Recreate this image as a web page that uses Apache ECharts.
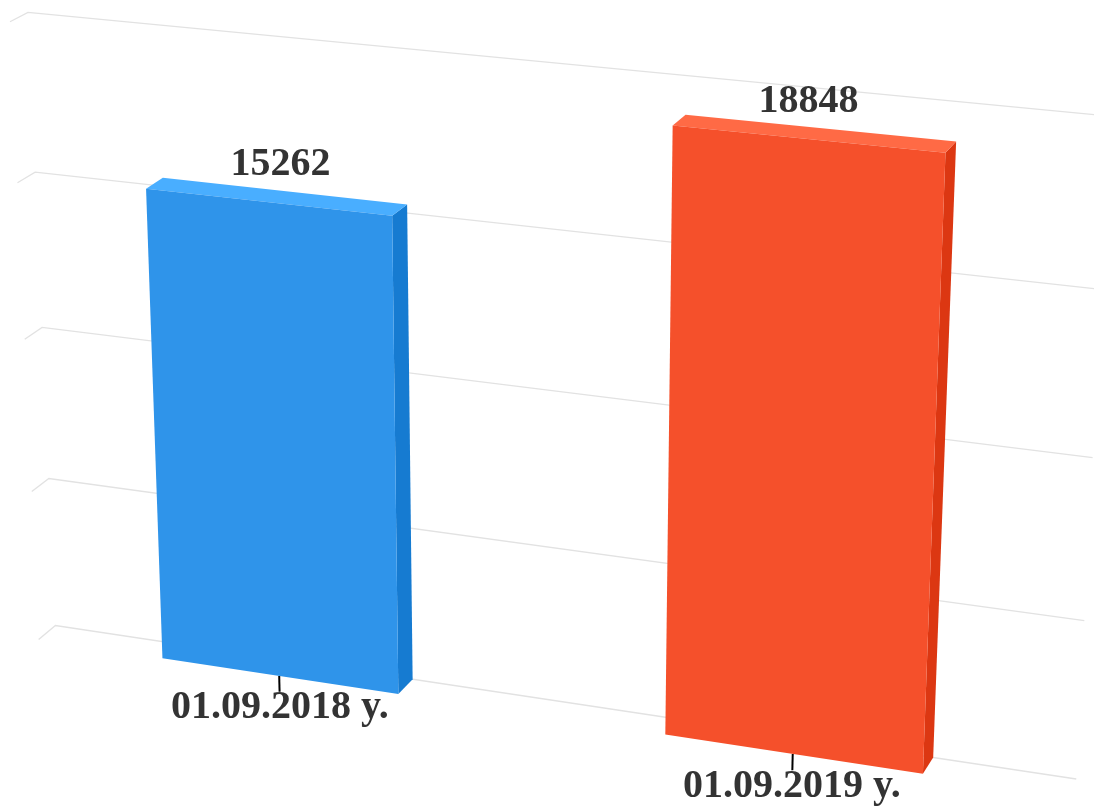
<!DOCTYPE html>
<html>
<head>
<meta charset="utf-8">
<script src="https://cdn.jsdelivr.net/npm/echarts@6/dist/echarts.min.js"></script>
<style>
html,body{margin:0;padding:0;background:#fff;}
#chart{width:1094px;height:807px;}
</style>
</head>
<body>
<div id="chart"></div>
<script>
// ---- data ----
const categories = ['01.09.2018 y.', '01.09.2019 y.'];
const values = [15262, 18848];
const yTicks = [0, 5000, 10000, 15000, 20000];
const barColors = ['#2F94EA', '#F5502B'];

// ---- 3D view settings (style) ----
const ALPHA = 20 * Math.PI / 180;
const BETA = 20 * Math.PI / 180;
const FLAT_W = 1120, FLAT_H = 680;   // virtual plot size in 3D units
const DEPTH = 40;                    // chart / column depth
const FOCAL = 4000, CAM = 4000;      // perspective
const BAR_FRAC = 0.48;
const LABEL_PULL = 0.982;
const FONT = 'bold 40px "Liberation Serif", "Times New Roman", serif';

function brighten(hex, amt) {
  const n = parseInt(hex.slice(1), 16);
  let r = (n >> 16) & 255, g = (n >> 8) & 255, b = n & 255;
  const d = Math.round(255 * amt);
  r = Math.max(0, Math.min(255, r + d));
  g = Math.max(0, Math.min(255, g + d));
  b = Math.max(0, Math.min(255, b + d));
  return 'rgb(' + r + ',' + g + ',' + b + ')';
}

function makeProj(cs) {
  const cx = cs.x + cs.width / 2, cy = cs.y + cs.height / 2;
  const sa = Math.sin(ALPHA), ca = Math.cos(ALPHA), sb = Math.sin(BETA), cb = Math.cos(BETA);
  const P = function (px, py, z) {
    const X = (px - cx) / cs.width * FLAT_W;
    const Y = (py - cy) / cs.height * FLAT_H;
    const Z = z - DEPTH / 2;
    const xr = cb * X + sb * Z;
    const yr = sa * sb * X + ca * Y - cb * sa * Z;
    const zr = -ca * sb * X + sa * Y + ca * cb * Z;
    const k = FOCAL / (CAM + zr);
    return [cx + xr * k, cy + yr * k];
  };
  P.cx = cx; P.cy = cy;
  return P;
}
function flatY(cs, units) { return units / FLAT_H * cs.height; }

const chart = echarts.init(document.getElementById('chart'), null, {renderer: 'canvas'});

const option = {
  animation: false,
  backgroundColor: '#ffffff',
  grid: { left: 137, right: 157, top: 96, bottom: 111 },
  xAxis: { type: 'category', data: categories, show: false, boundaryGap: true },
  yAxis: { type: 'value', min: 0, max: 20000, interval: 5000, show: false },
  series: [
    {
      type: 'custom',
      name: 'grid',
      z: 1,
      clip: false,
      silent: true,
      data: yTicks.map(v => [0, v]),
      renderItem: function (params, api) {
        const cs = params.coordSys;
        const P = makeProj(cs);
        const py = api.coord([0, api.value(1)])[1];
        const left = cs.x, right = cs.x + cs.width;
        return {
          type: 'polyline',
          shape: { points: [P(left, py, 0), P(left, py, DEPTH), P(right, py, DEPTH)] },
          style: { stroke: '#e2e2e2', lineWidth: 1.3, fill: null }
        };
      }
    },
    {
      type: 'custom',
      name: 'bars',
      z: 2,
      clip: false,
      data: values.map((v, i) => [i, v]),
      renderItem: function (params, api) {
        const cs = params.coordSys;
        const P = makeProj(cs);
        const i = api.value(0), v = api.value(1);
        const top = api.coord([i, v]);
        const base = api.coord([i, 0]);
        const bw = api.size([1, 0])[0] * BAR_FRAC;
        const xl = top[0] - bw / 2, xr = top[0] + bw / 2;
        const yt = top[1], yb = base[1];
        const col = barColors[i % barColors.length];
        const lab = P(top[0], yt, DEPTH / 2);
        const lx = P.cx + (lab[0] - P.cx) * LABEL_PULL;
        return {
          type: 'group',
          children: [
            { type: 'polygon', shape: { points: [P(xr, yt, 0), P(xr, yt, DEPTH), P(xr, yb, DEPTH), P(xr, yb, 0)] },
              style: { fill: brighten(col, -0.1) } },
            { type: 'polygon', shape: { points: [P(xl, yt, 0), P(xr, yt, 0), P(xr, yt, DEPTH), P(xl, yt, DEPTH)] },
              style: { fill: brighten(col, 0.1) } },
            { type: 'polygon', shape: { points: [P(xl, yt, 0), P(xr, yt, 0), P(xr, yb, 0), P(xl, yb, 0)] },
              style: { fill: col } },
            { type: 'text', x: lx, y: lab[1] - 32,
              style: { text: String(v), fill: '#333333', font: FONT,
                textAlign: 'center', textVerticalAlign: 'middle', align: 'center', verticalAlign: 'middle' } }
          ]
        };
      }
    },
    {
      type: 'custom',
      name: 'xaxis',
      z: 3,
      clip: false,
      silent: true,
      data: categories.map((c, i) => [i, 0]),
      renderItem: function (params, api) {
        const cs = params.coordSys;
        const P = makeProj(cs);
        const i = api.value(0);
        const b = api.coord([i, 0]);
        const t0 = P(b[0], b[1], 0);
        const t1 = P(b[0], b[1] + flatY(cs, 18), 0);
        const lp = P(b[0], b[1] + flatY(cs, 36), 0);
        return {
          type: 'group',
          children: [
            { type: 'line', shape: { x1: t0[0], y1: t0[1], x2: t1[0], y2: t1[1] },
              style: { stroke: '#000000', lineWidth: 2 } },
            { type: 'text', x: lp[0], y: lp[1],
              style: { text: categories[i], fill: '#333333', font: FONT,
                textAlign: 'center', textVerticalAlign: 'middle', align: 'center', verticalAlign: 'middle' } }
          ]
        };
      }
    }
  ]
};
chart.setOption(option);
</script>
</body>
</html>
